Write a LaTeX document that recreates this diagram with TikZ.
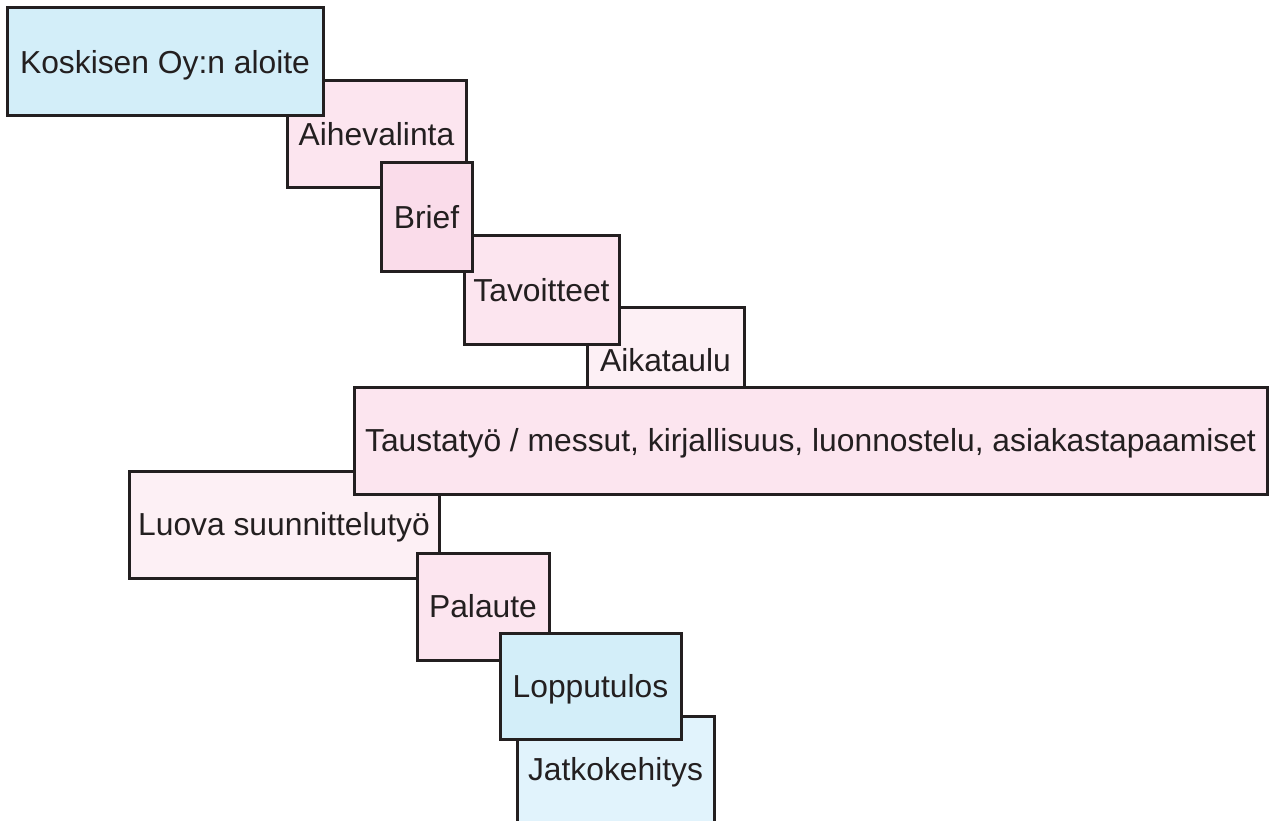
\documentclass[tikz,border=0pt]{standalone}
\usepackage{fontspec}
\setmainfont{Liberation Sans}
\definecolor{edge}{HTML}{231F20}
\definecolor{blueA}{HTML}{D3EEF9}
\definecolor{blueB}{HTML}{E1F3FC}
\definecolor{pinkA}{HTML}{FCE5EF}
\definecolor{pinkB}{HTML}{FADCEA}
\definecolor{pinkC}{HTML}{FDF0F5}
\begin{document}
\begin{tikzpicture}[x=1pt,y=-1pt,
  stage/.style={draw=edge, line width=3pt, rectangle, inner sep=0pt, outer sep=0pt,
    text=edge, font=\fontsize{31.8}{38}\selectfont, text height=22.9pt, text depth=0pt}]
\useasboundingbox (0,0) rectangle (1269,821);
\clip (0,0) rectangle (1269,821);
\node[stage, fill=pinkC, minimum width=157pt, minimum height=107pt] (aika) at (665.5,360.5) {Aikataulu};
\node[stage, fill=pinkA, minimum width=155pt, minimum height=108pt] (tavo) at (541.5,290) {Tavoitteet};
\node[stage, fill=pinkA, minimum width=179pt, minimum height=107pt] (aihe) at (376.5,134.5) {Aihevalinta};
\node[stage, fill=pinkB, minimum width=91pt, minimum height=108pt] (brief) at (426.5,217) {Brief};
\node[stage, fill=blueA, minimum width=316pt, minimum height=108pt] (kosk) at (165,62) {Koskisen Oy:n aloite};
\node[stage, fill=pinkC, minimum width=310pt, minimum height=107pt] (luova) at (284,524.5) {Luova suunnittelutyö};
\node[stage, fill=pinkA, minimum width=913pt, minimum height=107pt] (taus) at (810.5,440.5) {Taustatyö / messut, kirjallisuus, luonnostelu, asiakastapaamiset};
\node[stage, fill=pinkA, minimum width=132pt, minimum height=107pt] (pal) at (483,606.5) {Palaute};
\node[stage, fill=blueB, minimum width=197pt, minimum height=107pt] (jatko) at (615.5,769.5) {Jatkokehitys};
\node[stage, fill=blueA, minimum width=181pt, minimum height=106pt] (lopp) at (590.5,686) {Lopputulos};
\end{tikzpicture}
\end{document}
